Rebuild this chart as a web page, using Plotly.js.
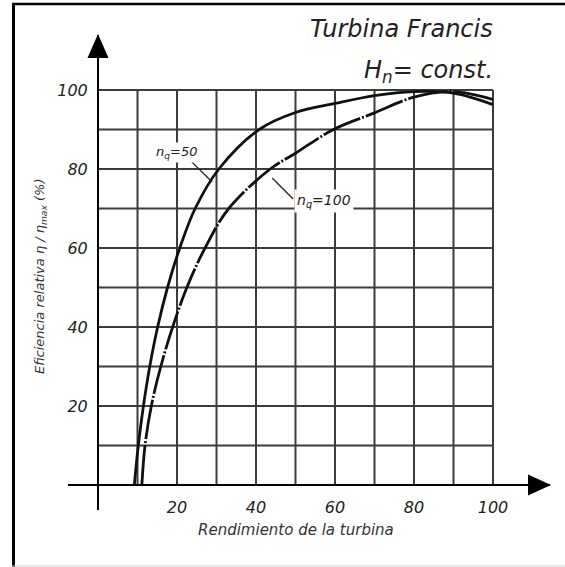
<!DOCTYPE html>
<html>
<head>
<meta charset="utf-8">
<script src="https://cdn.plot.ly/plotly-3.0.1.min.js"></script>
<style>html,body{margin:0;padding:0;background:#fff;}#chart{width:565px;height:567px;}</style>
</head>
<body>
<div id="chart"></div>
<script>
// ---- data ----
const nq50X = [9.2, 10.2, 11.5, 13.1, 15.1, 17.6, 20.7, 24.6, 30.6, 40.8, 50, 60, 70, 80, 90, 100];
const nq50Y = [0, 10, 20, 30, 40, 50, 60, 70, 80, 90, 94.3, 96.6, 98.6, 99.6, 99.2, 96.3];
const nq100X = [11.1, 11.9, 13.5, 15.9, 18.9, 22.5, 27.1, 33.1, 43.6, 50, 59.6, 70, 80, 90, 100];
const nq100Y = [0, 10, 20, 30, 40, 50, 60, 70, 80, 84, 90, 94.2, 98.2, 99.6, 97.6];
const gridVals = [10, 20, 30, 40, 50, 60, 70, 80, 90, 100];
const xTickVals = [20, 40, 60, 80, 100];
const yTickVals = [20, 40, 60, 80, 100];
const xTickText = ['20', '40', '60', '80', '100'];
const yTickText = ['20', '40', '60', '80', '100'];

// ---- layout helpers (pixel -> paper) ----
const W = 565, H = 567, ML = 68, MR = 15, MT = 35, MB = 57;
const PW = W - ML - MR, PH = H - MT - MB;
const px = p => (p - ML) / PW;
const py = p => (H - MB - p) / PH;

const gridColor = '#3c3c3c';
const shapes = [];
gridVals.forEach(v => {
  shapes.push({type: 'line', xref: 'x', yref: 'y', x0: v, x1: v, y0: 0, y1: 100, layer: 'below',
    line: {color: gridColor, width: 2}});
  shapes.push({type: 'line', xref: 'x', yref: 'y', x0: 0, x1: 100, y0: v, y1: v, layer: 'below',
    line: {color: gridColor, width: 2}});
});
// axis arrows
shapes.push({type: 'path', xref: 'paper', yref: 'paper',
  path: `M ${px(98)} ${py(34)} L ${px(87.5)} ${py(58)} L ${px(108.5)} ${py(58)} Z`,
  fillcolor: '#000', line: {width: 0}});
shapes.push({type: 'path', xref: 'paper', yref: 'paper',
  path: `M ${px(551)} ${py(485)} L ${px(528)} ${py(474.5)} L ${px(528)} ${py(495.5)} Z`,
  fillcolor: '#000', line: {width: 0}});
// leader lines for curve labels
shapes.push({type: 'line', xref: 'x', yref: 'y', x0: 22.5, y0: 83.0, x1: 28.9, y1: 76.7,
  line: {color: '#222', width: 1.3}});
shapes.push({type: 'line', xref: 'x', yref: 'y', x0: 44.1, y0: 77.7, x1: 49.4, y1: 72.4,
  line: {color: '#222', width: 1.3}});
// frame
shapes.push({type: 'line', xref: 'paper', yref: 'paper', x0: px(13.5), x1: px(13.5), y0: py(3), y1: py(567),
  line: {color: '#000', width: 3}});
shapes.push({type: 'line', xref: 'paper', yref: 'paper', x0: px(12), x1: px(565), y0: py(4), y1: py(4),
  line: {color: '#000', width: 2.5}});
shapes.push({type: 'line', xref: 'paper', yref: 'paper', x0: px(12), x1: px(565), y0: py(566), y1: py(566),
  line: {color: '#d0d0d0', width: 1}});

const fam = 'DejaVu Sans, sans-serif';
const traces = [
  {x: nq50X, y: nq50Y, mode: 'lines', type: 'scatter', name: 'nq=50',
   line: {color: '#111', width: 2.8, shape: 'spline', smoothing: 1}},
  {x: nq100X, y: nq100Y, mode: 'lines', type: 'scatter', name: 'nq=100',
   line: {color: '#111', width: 2.8, shape: 'spline', smoothing: 1, dash: '40px,2px,2px,2px'}}
];

const layout = {
  width: W, height: H,
  margin: {l: ML, r: MR, t: MT, b: MB, pad: 0},
  paper_bgcolor: '#fff', plot_bgcolor: 'rgba(0,0,0,0)',
  showlegend: false,
  xaxis: {
    range: [(ML - 98) / 3.95, (W - MR - 98) / 3.95],
    anchor: 'free', position: py(485),
    showgrid: false, zeroline: false,
    showline: true, linecolor: '#000', linewidth: 2,
    tickvals: xTickVals, ticktext: xTickText,
    ticks: 'outside', ticklen: 8, tickcolor: 'rgba(0,0,0,0)',
    tickfont: {family: fam, size: 16, color: '#222', style: 'italic'}
  },
  yaxis: {
    range: [(485 - (H - MB)) / 3.95, (485 - MT) / 3.95],
    anchor: 'free', position: px(98),
    showgrid: false, zeroline: false,
    showline: true, linecolor: '#000', linewidth: 2,
    tickvals: yTickVals, ticktext: yTickText,
    ticks: 'outside', ticklen: 6, tickcolor: 'rgba(0,0,0,0)',
    tickfont: {family: fam, size: 16, color: '#222', style: 'italic'}
  },
  shapes: shapes,
  annotations: [
    {xref: 'paper', yref: 'paper', x: px(495), y: py(29), xanchor: 'right', yanchor: 'middle',
     text: 'Turbina Francis', showarrow: false,
     font: {family: fam, size: 24, color: '#222', style: 'italic'}},
    {xref: 'paper', yref: 'paper', x: px(495), y: py(72), xanchor: 'right', yanchor: 'middle',
     text: 'H<sub>n</sub>= const.', showarrow: false,
     font: {family: fam, size: 24, color: '#222', style: 'italic'}},
    {xref: 'paper', yref: 'paper', x: px(296), y: py(530), xanchor: 'center', yanchor: 'middle',
     text: 'Rendimiento de la turbina', showarrow: false,
     font: {family: fam, size: 15, color: '#333', style: 'italic'}},
    {xref: 'paper', yref: 'paper', x: px(40), y: py(277), xanchor: 'center', yanchor: 'middle',
     text: 'Eficiencia relativa η / η<sub>max</sub> (%)', showarrow: false, textangle: -90,
     font: {family: fam, size: 13, color: '#333', style: 'italic'}},
    {xref: 'x', yref: 'y', x: 14.2, y: 84.3, xanchor: 'left', yanchor: 'middle',
     text: 'n<sub>q</sub>=50', showarrow: false, bgcolor: '#fff', borderpad: 1,
     font: {family: fam, size: 13, color: '#222', style: 'italic'}},
    {xref: 'x', yref: 'y', x: 49.6, y: 72.0, xanchor: 'left', yanchor: 'middle',
     text: 'n<sub>q</sub>=100', showarrow: false, bgcolor: '#fff', borderpad: 2,
     font: {family: fam, size: 14, color: '#222', style: 'italic'}}
  ]
};

Plotly.newPlot('chart', traces, layout, {staticPlot: true, displayModeBar: false});
</script>
</body>
</html>
